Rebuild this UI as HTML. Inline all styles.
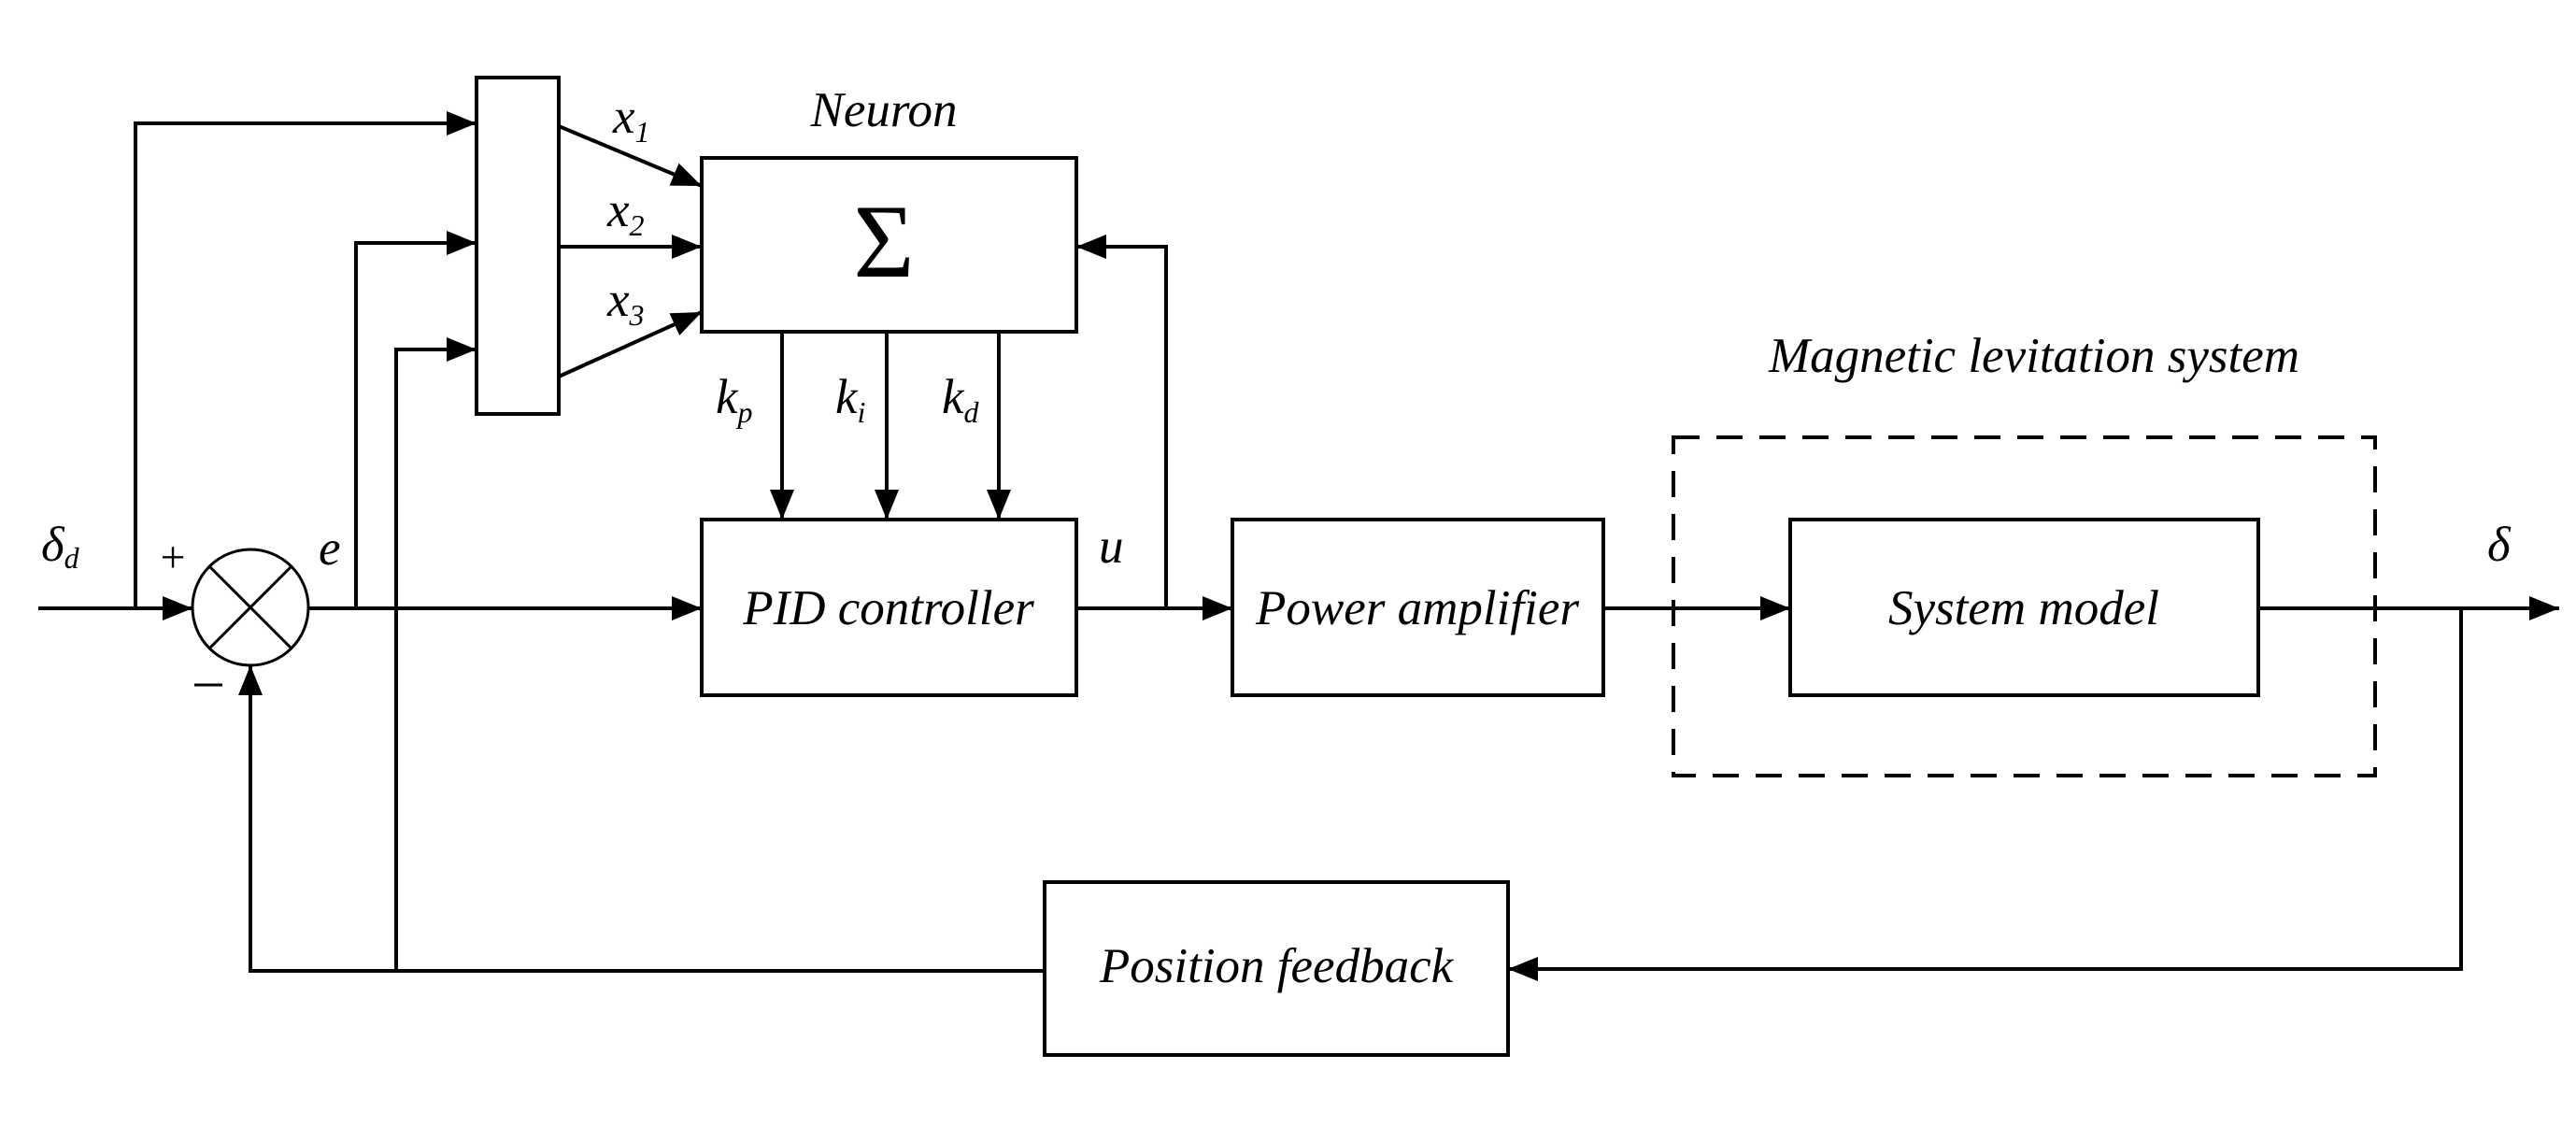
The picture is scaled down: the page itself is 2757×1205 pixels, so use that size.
<!DOCTYPE html>
<html><head><meta charset="utf-8"><style>html,body{margin:0;padding:0;background:#fff}svg{display:block}text{font-family:"Liberation Serif",serif;font-style:italic;fill:#000}</style></head><body>
<svg width="2757" height="1205" viewBox="0 0 2757 1205" xmlns="http://www.w3.org/2000/svg">
<defs>
<marker id="b" viewBox="0 0 10 10" refX="10" refY="5" markerWidth="32" markerHeight="26" orient="auto" markerUnits="userSpaceOnUse" preserveAspectRatio="none"><path d="M0,0 L10,5 L0,10 z" fill="#000"/></marker></defs>
<g stroke="#000" stroke-width="4" fill="none">
<rect x="510" y="83" width="88" height="360"/>
<rect x="751" y="169" width="401" height="186"/>
<rect x="751" y="556" width="401" height="188"/>
<rect x="1319" y="556" width="397" height="188"/>
<rect x="1916" y="556" width="501" height="188"/>
<rect x="1118" y="944" width="496" height="185"/>
<rect x="1791" y="468" width="751" height="362" stroke-dasharray="28,18"/>
<circle cx="268" cy="650" r="62" stroke-width="3"/>
<line x1="224" y1="606" x2="312" y2="694" stroke-width="3"/>
<line x1="312" y1="606" x2="224" y2="694" stroke-width="3"/>
<path d="M41,651 H206" marker-end="url(#b)"/>
<path d="M145,651 V132 H510" marker-end="url(#b)"/>
<path d="M330,651 H751" marker-end="url(#b)"/>
<path d="M381,651 V260 H510" marker-end="url(#b)"/>
<path d="M424,1039 V374 H510" marker-end="url(#b)"/>
<path d="M598,135 L751,199" marker-end="url(#b)"/>
<path d="M598,264 H751" marker-end="url(#b)"/>
<path d="M598,403 L751,334" marker-end="url(#b)"/>
<path d="M837,355 V556" marker-end="url(#b)"/>
<path d="M949,355 V556" marker-end="url(#b)"/>
<path d="M1069,355 V556" marker-end="url(#b)"/>
<path d="M1152,651 H1319" marker-end="url(#b)"/>
<path d="M1248,651 V264 H1152" marker-end="url(#b)"/>
<path d="M1716,651 H1916" marker-end="url(#b)"/>
<path d="M2417,651 H2739" marker-end="url(#b)"/>
<path d="M2634,651 V1037 H1614" marker-end="url(#b)"/>
<path d="M1118,1039 H268 V712" marker-end="url(#b)"/>
<line x1="208" y1="733" x2="238" y2="733" stroke-width="3"/>
</g>
<g font-size="53">
<text x="946" y="135" text-anchor="middle">Neuron</text>
<text x="2177" y="398" text-anchor="middle">Magnetic levitation system</text>
<text x="951" y="668" text-anchor="middle">PID controller</text>
<text x="1517" y="668" text-anchor="middle">Power amplifier</text>
<text x="2166" y="668" text-anchor="middle">System model</text>
<text x="1366" y="1051" text-anchor="middle">Position feedback</text>
<text x="44" y="600">δ<tspan font-size="32" dy="8">d</tspan></text>
<text x="341" y="604">e</text>
<text x="1176" y="602">u</text>
<text x="2662" y="600">δ</text>
<text x="656" y="142">x<tspan font-size="32" dy="10">1</tspan></text>
<text x="650" y="242">x<tspan font-size="32" dy="10">2</tspan></text>
<text x="650" y="338">x<tspan font-size="32" dy="10">3</tspan></text>
<text x="766" y="442">k<tspan font-size="32" dy="10">p</tspan></text>
<text x="894" y="442">k<tspan font-size="32" dy="10">i</tspan></text>
<text x="1008" y="442">k<tspan font-size="32" dy="10">d</tspan></text>
</g>
<text x="946" y="296" font-size="112" text-anchor="middle" style="font-style:normal">Σ</text>
<text x="185" y="612" font-size="48" text-anchor="middle" style="font-style:normal">+</text>
</svg>
</body></html>
